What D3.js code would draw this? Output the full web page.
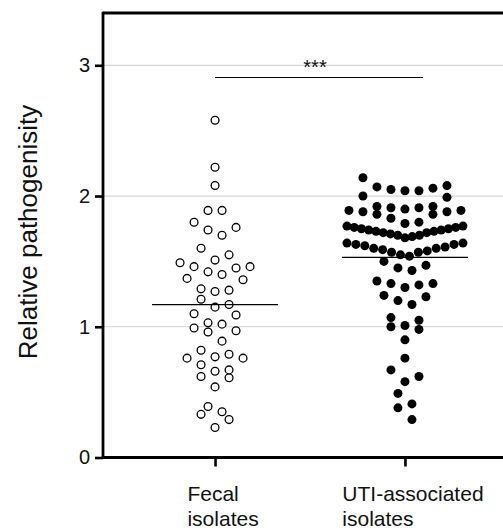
<!DOCTYPE html>
<html><head><meta charset="utf-8">
<script src="https://cdn.jsdelivr.net/npm/d3@7"></script>
<style>body{margin:0;background:#fff}svg{display:block}</style>
</head><body>
<svg id="chart" width="503" height="530"></svg>
<script>
// ---- data ----
const categories = ["Fecal isolates", "UTI-associated isolates"];
const categoryLines = [["Fecal", "isolates"], ["UTI-associated", "isolates"]];
const fecalValues = [2.58, 2.22, 2.08, 1.89, 1.89, 1.80, 1.76, 1.74, 1.70, 1.60,
  1.55, 1.51, 1.49, 1.46, 1.46, 1.45, 1.42, 1.40, 1.37, 1.36,
  1.29, 1.28, 1.27, 1.21, 1.17, 1.15, 1.10, 1.09, 1.03, 1.02,
  0.99, 0.97, 0.96, 0.89, 0.82, 0.79, 0.77, 0.76, 0.76, 0.71,
  0.67, 0.66, 0.62, 0.61, 0.54, 0.39, 0.35, 0.33, 0.29, 0.23];
const utiValues = [2.14, 2.08, 2.07, 2.06, 2.05, 2.04, 2.04, 2.00, 1.99,
  1.92, 1.92, 1.91, 1.91, 1.90, 1.89, 1.89, 1.88, 1.88, 1.86, 1.86,
  1.83, 1.80, 1.79, 1.77,
  1.77, 1.76, 1.76, 1.75, 1.75, 1.74, 1.74, 1.73, 1.73, 1.72, 1.72, 1.71, 1.70, 1.70, 1.69, 1.68,
  1.64, 1.64, 1.63, 1.63, 1.62, 1.61, 1.60, 1.60, 1.59, 1.58, 1.57, 1.57, 1.55, 1.54,
  1.50, 1.47, 1.45, 1.43, 1.35, 1.33, 1.33, 1.32, 1.30, 1.24, 1.23, 1.20, 1.17,
  1.07, 1.05, 1.01, 1.00, 0.98, 0.90, 0.76, 0.67, 0.62, 0.58, 0.49, 0.41, 0.38, 0.29];
const yTicks = [0, 1, 2, 3];
const gridValues = [1, 2, 3];
const yLabel = "Relative pathogenisity";
const sigLabel = "***";

(function () {
// ---- layout ----
const svg = d3.select("#chart");
const font = "'Liberation Sans', Arial, Helvetica, sans-serif";
const pLeft = 103, pTop = 13, pBottom = 457.5, pRight = 517;

const x = d3.scalePoint().domain(categories).range([pLeft, pRight]).padding(0.59);
const y = d3.scaleLinear().domain([0, 3.4]).range([pBottom, pTop]);

// grid
svg.append("g").selectAll("line").data(gridValues).join("line")
  .attr("x1", pLeft).attr("x2", pRight)
  .attr("y1", d => y(d)).attr("y2", d => y(d))
  .attr("stroke", "#d6d6d6").attr("stroke-width", 1.2);

// GraphPad-like row layout of dots
function rowLayout(values, binH, maxSpacing, maxWidth) {
  const sorted = values.slice().sort((a, b) => a - b);
  const out = [];
  let row = [];
  const flush = () => {
    const n = row.length;
    const s = n > 1 ? Math.min(maxSpacing, maxWidth / (n - 1)) : 0;
    const slots = d3.range(n).map(k => (k - (n - 1) / 2) * s)
      .sort((a, b) => (Math.abs(a) - Math.abs(b)) || (b - a));
    row.forEach((v, k) => out.push({ v, dx: slots[k] }));
    row = [];
  };
  for (const v of sorted) {
    if (row.length && v - row[0] > binH + 1e-9) flush();
    row.push(v);
  }
  flush();
  return out;
}

const groups = [
  { cat: categories[0], values: fecalValues, open: true, r: 3.9 },
  { cat: categories[1], values: utiValues, open: false, r: 4.5 }
];

groups.forEach(g => {
  const pts = rowLayout(g.values, 0.1, 14, 116);
  svg.append("g").selectAll("circle").data(pts).join("circle")
    .attr("cx", d => x(g.cat) + d.dx)
    .attr("cy", d => y(d.v))
    .attr("r", g.r)
    .attr("fill", g.open ? "#fff" : "#000")
    .attr("stroke", "#000")
    .attr("stroke-width", g.open ? 1.3 : 0);
  const m = d3.mean(g.values);
  svg.append("line")
    .attr("x1", x(g.cat) - 63).attr("x2", x(g.cat) + 63)
    .attr("y1", y(m)).attr("y2", y(m))
    .attr("stroke", "#000").attr("stroke-width", 1.2);
});

// axes
const yAxis = svg.append("g").attr("transform", `translate(${pLeft},0)`)
  .call(d3.axisLeft(y).tickValues(yTicks).tickFormat(d3.format("d"))
    .tickSize(8).tickSizeOuter(0).tickPadding(5));
yAxis.select(".domain").remove();
yAxis.selectAll(".tick line").attr("stroke", "#000").attr("stroke-width", 2.6);
yAxis.selectAll(".tick text").attr("font-family", font).attr("font-size", 20).attr("fill", "#111");

const xAxis = svg.append("g").attr("transform", `translate(0,${pBottom})`)
  .call(d3.axisBottom(x).tickSize(9).tickSizeOuter(0).tickFormat(""));
xAxis.select(".domain").remove();
xAxis.selectAll(".tick line").attr("stroke", "#000").attr("stroke-width", 2.6);

// frame lines
svg.append("line").attr("x1", pLeft).attr("x2", pLeft).attr("y1", pTop - 1.3).attr("y2", pBottom + 1.3)
  .attr("stroke", "#000").attr("stroke-width", 2.8);
svg.append("line").attr("x1", pLeft).attr("x2", pRight).attr("y1", pBottom).attr("y2", pBottom)
  .attr("stroke", "#000").attr("stroke-width", 2.8);
svg.append("line").attr("x1", pLeft).attr("x2", pRight).attr("y1", pTop).attr("y2", pTop)
  .attr("stroke", "#000").attr("stroke-width", 2.8);

// category labels (two lines, left-aligned block)
categories.forEach((c, i) => {
  categoryLines[i].forEach((ln, k) => {
    svg.append("text").attr("class", "cat" + i)
      .attr("font-family", font).attr("font-size", 21).attr("fill", "#111")
      .attr("x", 0).attr("y", 501 + k * 24.5).text(ln);
  });
  const nodes = svg.selectAll("text.cat" + i).nodes();
  const w = d3.max(nodes, n => n.getComputedTextLength());
  svg.selectAll("text.cat" + i).attr("x", x(c) - w / 2 + 8);
});

// y label
svg.append("text")
  .attr("transform", `translate(37,232) rotate(-90)`)
  .attr("text-anchor", "middle")
  .attr("font-family", font).attr("font-size", 26).attr("fill", "#111")
  .text(yLabel);

// significance bar
const sx0 = x(categories[0]), sx1 = x(categories[1]) + 18;
svg.append("line").attr("x1", sx0).attr("x2", sx1).attr("y1", 77.5).attr("y2", 77.5)
  .attr("stroke", "#000").attr("stroke-width", 1.1);
svg.append("text").attr("x", (sx0 + sx1) / 2 - 4).attr("y", 74)
  .attr("text-anchor", "middle").attr("font-family", font).attr("font-size", 20).attr("fill", "#111")
  .text(sigLabel);
})();
</script>
</body></html>
